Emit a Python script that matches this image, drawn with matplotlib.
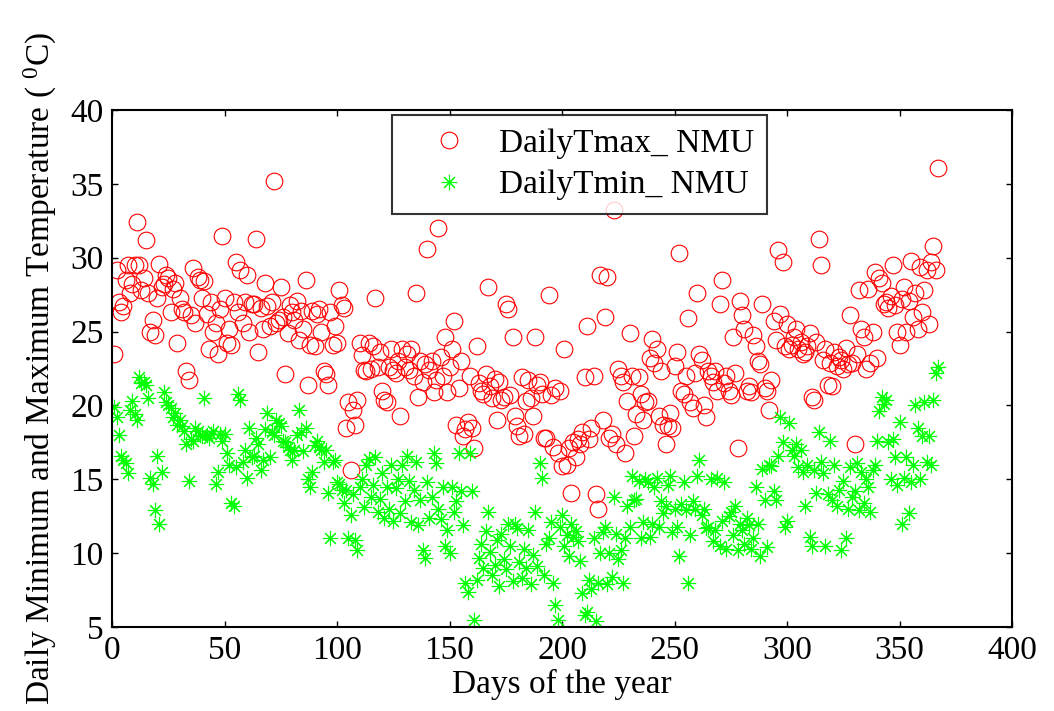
import numpy as np
import matplotlib.pyplot as plt

plt.rcParams['font.family'] = ['Liberation Serif', 'DejaVu Serif']
plt.rcParams['mathtext.fontset'] = 'custom'
plt.rcParams['mathtext.rm'] = 'Liberation Serif'
plt.rcParams['mathtext.it'] = 'Liberation Serif:italic'

# daily maximum temperature (deg C), day 1..367
tmax = [
	23.5, 29.2, 27.0, 26.3, 26.7, 28.5, 29.5, 27.6, 28.2, 29.5,
	32.4, 29.5, 27.8, 28.6, 31.2, 27.6, 25.0, 25.8, 24.8, 27.3,
	29.6, 28.0, 28.2, 28.8, 28.6, 26.3, 27.9, 28.3, 24.2, 27.3,
	26.5, 26.3, 22.3, 21.7, 26.1, 29.3, 25.6, 28.7, 28.5, 27.3,
	28.4, 26.2, 23.8, 27.0, 25.0, 25.6, 23.5, 26.5, 31.5, 27.3,
	24.2, 25.2, 24.1, 27.0, 29.7, 26.3, 29.2, 25.6, 27.0, 28.8,
	25.0, 26.9, 26.9, 31.3, 23.6, 26.6, 25.2, 28.3, 26.7, 25.4,
	27.0, 35.2, 25.6, 25.8, 28.0, 26.0, 22.1, 24.9, 26.8, 26.3,
	25.8, 27.1, 24.4, 26.4, 25.2, 28.5, 21.4, 24.1, 26.4, 24.0,
	26.2, 26.5, 25.0, 22.3, 22.1, 21.4, 26.3, 24.1, 25.4, 24.2,
	27.8, 26.8, 26.6, 18.5, 20.2, 15.6, 19.7, 18.7, 20.4, 24.2,
	23.4, 22.4, 22.3, 24.2, 22.5, 24.0, 27.3, 22.6, 23.6, 21.0,
	20.4, 20.2, 22.6, 23.8, 22.4, 22.2, 23.0, 19.3, 23.8, 22.6,
	23.5, 22.4, 23.8, 22.0, 27.6, 20.6, 23.0, 21.6, 22.8, 30.6,
	22.4, 23.0, 20.9, 21.7, 32.0, 23.3, 22.0, 24.6, 20.9, 22.6,
	23.8, 25.7, 18.7, 21.2, 23.0, 17.9, 18.4, 18.9, 22.0, 18.5,
	17.1, 24.0, 21.5, 21.0, 20.8, 22.1, 28.0, 21.3, 20.5, 21.8,
	19.0, 21.6, 20.4, 20.6, 26.9, 26.5, 20.7, 24.6, 19.3, 18.6,
	17.9, 21.9, 18.1, 20.3, 21.7, 20.5, 19.3, 24.6, 21.4, 21.6,
	20.8, 17.8, 17.8, 27.5, 20.7, 17.2, 21.2, 16.8, 21.0, 15.9,
	23.8, 16.0, 17.1, 14.1, 17.5, 16.5, 17.7, 17.4, 18.2, 21.9,
	25.4, 17.7, 18.5, 22.0, 14.0, 13.0, 28.8, 19.0, 26.0, 28.7,
	17.8, 18.1, 33.2, 17.4, 22.5, 22.0, 21.6, 16.8, 20.3, 24.9,
	22.0, 17.9, 19.4, 21.9, 20.8, 19.0, 20.2, 20.3, 23.2, 24.5,
	22.9, 23.8, 19.3, 22.3, 18.7, 17.4, 18.6, 19.5, 18.5, 22.7,
	23.6, 30.3, 21.0, 20.8, 22.0, 25.9, 20.2, 19.8, 22.2, 27.6,
	23.5, 23.1, 20.0, 19.2, 22.3, 22.0, 21.6, 22.3, 21.0, 26.9,
	28.5, 21.5, 22.0, 21.0, 20.7, 24.6, 22.2, 17.1, 27.1, 26.1,
	25.2, 21.0, 21.3, 20.9, 24.8, 24.0, 23.0, 22.8, 26.9, 21.2,
	21.0, 19.7, 21.7, 25.7, 24.4, 30.5, 26.2, 29.7, 24.0, 25.5,
	23.8, 24.1, 24.6, 25.2, 23.8, 24.3, 23.5, 23.6, 24.0, 24.9,
	20.6, 20.4, 24.3, 31.3, 29.5, 23.1, 23.8, 21.4, 22.9, 21.3,
	23.6, 22.7, 23.3, 23.1, 22.5, 23.9, 22.8, 26.1, 22.9, 17.4,
	23.5, 27.8, 25.2, 24.6, 22.5, 27.9, 22.9, 25.0, 29.0, 23.2,
	28.6, 28.3, 26.9, 27.0, 26.6, 27.4, 29.5, 26.8, 25.0, 24.1,
	27.2, 28.0, 25.0, 27.1, 29.8, 26.0, 27.6, 25.2, 29.4, 26.3,
	27.8, 29.2, 25.5, 29.7, 30.8, 29.2, 36.1,
]

# daily minimum temperature (deg C), day 1..367
tmin = [
	19.9, 19.2, 18.0, 16.6, 16.3, 16.1, 15.4, 19.7, 20.3, 19.4,
	19.0, 21.9, 21.5, 21.6, 21.4, 20.5, 15.1, 14.7, 12.9, 16.6,
	12.0, 15.5, 20.9, 20.2, 20.0, 19.8, 19.2, 19.5, 18.7, 19.0,
	18.6, 18.3, 17.4, 14.9, 17.7, 17.6, 18.5, 18.3, 18.0, 17.9,
	20.5, 18.0, 17.8, 18.1, 18.3, 14.7, 15.5, 18.1, 17.6, 18.1,
	16.8, 16.0, 13.4, 13.2, 15.8, 20.8, 20.4, 16.2, 17.0, 15.1,
	18.5, 16.5, 16.6, 17.8, 17.4, 15.6, 16.3, 18.4, 19.5, 16.5,
	18.2, 18.0, 19.0, 18.8, 18.6, 17.6, 17.5, 17.2, 17.0, 16.3,
	17.0, 18.0, 19.7, 18.2, 16.9, 18.5, 15.0, 14.5, 15.5, 17.3,
	17.6, 17.2, 17.0, 16.2, 17.0, 14.1, 11.0, 16.2, 16.3, 14.8,
	14.7, 14.3, 13.4, 14.3, 11.0, 12.6, 14.0, 10.9, 10.2, 14.5,
	15.0, 13.1, 16.0, 16.4, 13.8, 14.6, 16.5, 12.8, 13.7, 15.4,
	12.4, 14.5, 13.0, 16.0, 12.2, 14.4, 15.0, 12.7, 16.0, 13.5,
	16.6, 14.9, 12.1, 14.3, 16.2, 11.9, 13.6, 10.2, 9.7, 14.8,
	12.4, 13.8, 16.8, 16.1, 13.0, 12.3, 14.5, 10.5, 11.6, 10.0,
	14.5, 12.8, 13.5, 16.8, 14.2, 11.9, 8.0, 7.4, 16.8, 14.2,
	5.5, 8.2, 9.7, 10.6, 9.0, 11.5, 12.8, 10.1, 8.5, 9.2,
	10.9, 7.8, 11.3, 9.6, 8.9, 12.0, 10.5, 8.1, 12.0, 11.7,
	9.4, 8.3, 10.3, 9.0, 11.6, 7.9, 9.9, 12.8, 9.1, 16.1,
	15.1, 8.5, 10.6, 11.0, 12.1, 8.0, 6.5, 5.5, 11.8, 12.6,
	10.5, 11.2, 9.8, 12.0, 11.1, 11.5, 10.8, 9.5, 7.3, 5.8,
	6.0, 8.2, 7.6, 11.0, 5.4, 8.0, 10.0, 11.4, 11.8, 7.9,
	10.0, 8.4, 13.8, 11.3, 9.6, 10.2, 8.0, 11.0, 13.2, 11.8,
	15.2, 13.6, 13.7, 14.9, 11.0, 12.1, 15.0, 14.8, 11.1, 12.0,
	14.5, 15.1, 11.8, 13.5, 12.7, 13.2, 14.6, 15.2, 11.4, 13.0,
	11.8, 9.8, 13.3, 14.8, 12.9, 8.0, 11.2, 13.5, 13.0, 15.2,
	16.3, 12.6, 13.0, 11.7, 11.8, 15.0, 10.8, 11.6, 15.1, 10.5,
	12.2, 14.8, 10.3, 12.5, 12.8, 11.2, 13.2, 10.2, 12.0, 11.6,
	10.6, 12.4, 11.9, 10.3, 11.0, 14.5, 12.0, 9.8, 15.7, 13.6,
	10.4, 16.0, 15.9, 14.2, 13.6, 16.6, 19.2, 17.5, 11.8, 12.2,
	18.8, 17.0, 16.6, 17.4, 15.8, 17.0, 15.5, 13.2, 16.0, 11.1,
	10.5, 15.6, 14.1, 18.2, 16.2, 15.4, 10.5, 14.0, 17.6, 13.6,
	16.0, 13.2, 14.3, 10.2, 14.9, 11.0, 13.0, 15.8, 13.8, 14.2,
	16.1, 12.9, 15.5, 13.4, 15.0, 14.5, 12.8, 15.6, 16.0, 17.6,
	19.6, 20.6, 20.1, 20.4, 17.5, 15.0, 17.7, 16.5, 14.6, 18.9,
	12.0, 15.1, 16.5, 12.7, 14.8, 16.0, 20.0, 18.5, 15.0, 17.9,
	20.2, 16.2, 17.9, 16.0, 20.4, 22.2, 22.6,
]

days = np.arange(1, len(tmax) + 1)

fig = plt.figure(figsize=(10.54, 7.11), dpi=100)
ax = fig.add_axes([0.1063, 0.1181, 0.8539, 0.7272])

ax.plot(days, tmax, linestyle='none', marker='o', markersize=12,
		markerfacecolor='none', markeredgecolor='red', markeredgewidth=0.8,
		label='DailyTmax_ NMU')
ax.plot(days, tmin, linestyle='none', marker=(8, 2, 0), markersize=11,
		color='#00ff00', markeredgewidth=0.8, label='DailyTmin_ NMU')

ax.set_xlim(0, 400)
ax.set_ylim(5, 40)
ax.set_xticks(np.arange(0, 401, 50))
ax.set_yticks(np.arange(5, 41, 5))
ax.tick_params(direction='in', length=4, width=1, labelsize=24,
			   top=True, right=True, pad=6)
for s in ax.spines.values():
	s.set_linewidth(1.5)

ax.set_xlabel('Days of the year', fontsize=24, labelpad=2)
ax.set_ylabel(r'Daily Minimum and Maximum Temperature ( $^{0}$C)', fontsize=24, labelpad=8)

leg = ax.legend(loc='upper left', bbox_to_anchor=(0.311, 0.99), borderaxespad=0,
				fontsize=24, frameon=True, fancybox=False, edgecolor='black',
				handlelength=2.6, handletextpad=0.2, labelspacing=0.33,
				borderpad=0.4)
leg.get_frame().set_linewidth(1.5)

fig.savefig('out.png', dpi=100)
